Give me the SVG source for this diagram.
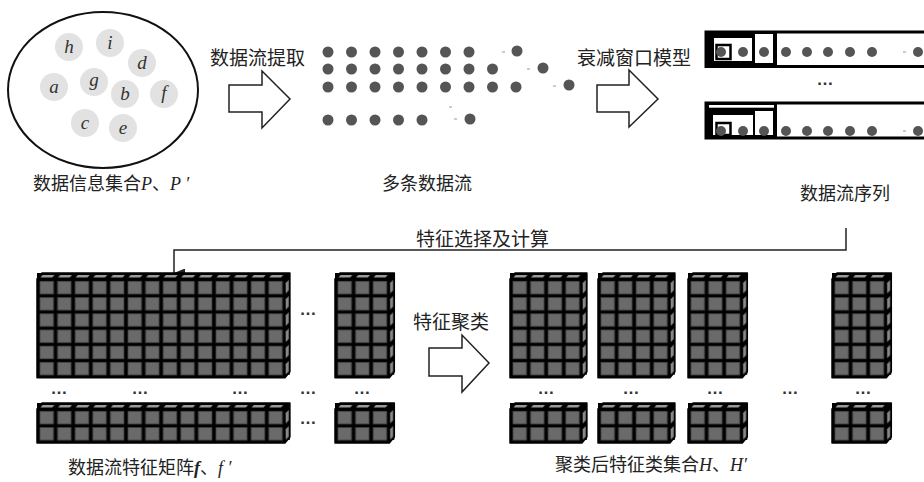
<svg xmlns="http://www.w3.org/2000/svg" width="924" height="482" viewBox="0 0 924 482">
<style>
.cjk{font-family:"Noto Sans CJK SC","Liberation Sans",sans-serif;fill:#222;}
.lbl{font-family:"Liberation Serif",serif;font-style:italic;fill:#333;font-size:19px;}
.it{font-family:"Liberation Serif",serif;font-style:italic;}
.el{font-family:"Liberation Sans",sans-serif;font-size:17px;font-weight:bold;fill:#333;}
.ball{fill:#e2e2e2;}
.d{fill:#555;}
.dash{stroke:#999;stroke-width:1;}
.harrow{fill:#fff;stroke:#222;stroke-width:1.5;}
.sil{fill:#000;stroke:#000;stroke-width:1.5;stroke-linejoin:round;}
</style>
<defs>
<pattern id="pf" patternUnits="userSpaceOnUse" x="0" y="0" width="17.6" height="16.2">
<rect width="17.6" height="16.2" fill="#000"/>
<rect x="3" y="2.5" width="13.5" height="12.5" fill="#6a6a6a" stroke="#4a4a4a" stroke-width="0.8"/>
</pattern>
<pattern id="pt" patternUnits="userSpaceOnUse" x="0" y="-6" width="17.6" height="6">
<rect width="17.6" height="6" fill="#000"/>
<polygon points="3.5,4.6 5.6,2 17.4,2 15.3,4.6" fill="#9a9a9a"/>
</pattern>
<pattern id="ps" patternUnits="userSpaceOnUse" x="0" y="0" width="6" height="16.2">
<rect width="6" height="16.2" fill="#000"/>
<polygon points="0.8,14.5 0.8,4 3.8,1 3.8,11.5" fill="#8a8a8a"/>
</pattern>
<marker id="ah" markerUnits="userSpaceOnUse" markerWidth="9" markerHeight="12" refX="4.5" refY="11" orient="auto-start-reverse" viewBox="0 0 9 12">
<path d="M0,0 L9,0 L4.5,11 Z" fill="#222"/>
</marker>
</defs>

<!-- data info set -->
<g id="dataset">
<ellipse cx="103" cy="90" rx="95" ry="78" fill="none" stroke="#111" stroke-width="2"/>
<circle class="ball" cx="69" cy="47" r="14"/><text class="lbl" x="69" y="53" text-anchor="middle">h</text>
<circle class="ball" cx="110" cy="43" r="14"/><text class="lbl" x="110" y="49" text-anchor="middle">i</text>
<circle class="ball" cx="142" cy="63" r="14"/><text class="lbl" x="142" y="69" text-anchor="middle">d</text>
<circle class="ball" cx="54" cy="87" r="14"/><text class="lbl" x="54" y="93" text-anchor="middle">a</text>
<circle class="ball" cx="94" cy="82" r="14"/><text class="lbl" x="94" y="86" text-anchor="middle">g</text>
<circle class="ball" cx="125" cy="94" r="14"/><text class="lbl" x="125" y="100" text-anchor="middle">b</text>
<circle class="ball" cx="164" cy="94" r="14"/><text class="lbl" x="164" y="99" text-anchor="middle">f</text>
<circle class="ball" cx="85" cy="123" r="14"/><text class="lbl" x="85" y="129" text-anchor="middle">c</text>
<circle class="ball" cx="123" cy="128" r="14"/><text class="lbl" x="123" y="134" text-anchor="middle">e</text>
<text class="cjk" x="33" y="190" font-size="18">数据信息集合<tspan class="it">P</tspan>、<tspan class="it">P ′</tspan></text>
</g>

<!-- extraction arrow -->
<g id="extract">
<polygon class="harrow" points="229,85 262,85 262,71 290,99 262,128 262,112 229,112"/>
<text class="cjk" x="210" y="65" font-size="19">数据流提取</text>
</g>

<!-- multiple data streams -->
<g id="streams">
<circle class="d" cx="328" cy="52" r="5.5"/><circle class="d" cx="351.5" cy="52" r="5.5"/><circle class="d" cx="375" cy="52" r="5.5"/><circle class="d" cx="398.5" cy="52" r="5.5"/><circle class="d" cx="422" cy="52" r="5.5"/><circle class="d" cx="445.5" cy="52" r="5.5"/><circle class="d" cx="469" cy="52" r="5.5"/>
<line class="dash" x1="502" y1="52" x2="505" y2="52"/><circle class="d" cx="517" cy="51" r="5.5"/>
<circle class="d" cx="328" cy="69" r="5.5"/><circle class="d" cx="351.5" cy="69" r="5.5"/><circle class="d" cx="375" cy="69" r="5.5"/><circle class="d" cx="398.5" cy="69" r="5.5"/><circle class="d" cx="422" cy="69" r="5.5"/><circle class="d" cx="445.5" cy="69" r="5.5"/><circle class="d" cx="469" cy="69" r="5.5"/><circle class="d" cx="492.5" cy="69" r="5.5"/>
<line class="dash" x1="527" y1="69" x2="530" y2="69"/><circle class="d" cx="543" cy="68" r="5.5"/>
<circle class="d" cx="328" cy="87" r="5.5"/><circle class="d" cx="351.5" cy="87" r="5.5"/><circle class="d" cx="375" cy="87" r="5.5"/><circle class="d" cx="398.5" cy="87" r="5.5"/><circle class="d" cx="422" cy="87" r="5.5"/><circle class="d" cx="445.5" cy="87" r="5.5"/><circle class="d" cx="469" cy="87" r="5.5"/><circle class="d" cx="492.5" cy="87" r="5.5"/><circle class="d" cx="516" cy="87" r="5.5"/>
<line class="dash" x1="553" y1="86" x2="556" y2="86"/><circle class="d" cx="569" cy="85" r="5.5"/>
<circle class="d" cx="328" cy="120" r="5.5"/><circle class="d" cx="351.5" cy="120" r="5.5"/><circle class="d" cx="375" cy="120" r="5.5"/><circle class="d" cx="398.5" cy="120" r="5.5"/><circle class="d" cx="422" cy="120" r="5.5"/>
<line class="dash" x1="449" y1="107" x2="452" y2="107"/><line class="dash" x1="454" y1="119" x2="457" y2="119"/><circle class="d" cx="470" cy="119" r="5.5"/>
<text class="cjk" x="382" y="190" font-size="18">多条数据流</text>
</g>

<!-- decay window arrow -->
<g id="decay">
<polygon class="harrow" points="597,85 629,85 629,70 658,99 629,127 629,112 597,112"/>
<text class="cjk" x="577" y="65" font-size="19">衰减窗口模型</text>
</g>

<!-- data stream sequences -->
<g id="sequences">
<path d="M924,32 H706 V66.5 H924" fill="none" stroke="#000" stroke-width="3"/>
<rect x="706" y="31" width="71" height="37" fill="#000"/>
<rect x="755" y="34" width="18" height="29" fill="#fff"/>
<rect x="714" y="38" width="38" height="23" fill="#fff"/>
<rect x="716.5" y="45" width="14" height="14" fill="#fff" stroke="#000" stroke-width="2.5"/>
<circle class="d" cx="721" cy="52" r="5"/><circle class="d" cx="743" cy="52" r="5"/><circle class="d" cx="764" cy="52" r="5"/><circle class="d" cx="786" cy="52" r="5"/><circle class="d" cx="807" cy="52" r="5"/><circle class="d" cx="828" cy="52" r="5"/><circle class="d" cx="850" cy="52" r="5"/><circle class="d" cx="872" cy="52" r="5"/>
<line class="dash" x1="903" y1="52" x2="906" y2="52"/><circle class="d" cx="918" cy="52" r="5"/>
<text class="el" x="825" y="85" text-anchor="middle">…</text>
<path d="M924,103 H706 V138 H924" fill="none" stroke="#000" stroke-width="3"/>
<rect x="706" y="102" width="71" height="37" fill="#000"/>
<rect x="709" y="105" width="65" height="2.7" fill="#fff"/>
<rect x="755" y="111" width="18" height="24" fill="#fff"/>
<rect x="713" y="115" width="40" height="20" fill="#fff"/>
<rect x="716.5" y="123" width="14" height="12" fill="#fff" stroke="#000" stroke-width="2.5"/>
<circle class="d" cx="721" cy="131" r="5"/><circle class="d" cx="743" cy="131" r="5"/><circle class="d" cx="764" cy="131" r="5"/><circle class="d" cx="786" cy="131" r="5"/><circle class="d" cx="807" cy="131" r="5"/><circle class="d" cx="828" cy="131" r="5"/><circle class="d" cx="850" cy="131" r="5"/><circle class="d" cx="872" cy="131" r="5"/>
<line class="dash" x1="903" y1="131" x2="906" y2="131"/><circle class="d" cx="918" cy="131" r="5"/>
<text class="cjk" x="800" y="200" font-size="18">数据流序列</text>
</g>

<!-- connector -->
<g id="connectors">
<path d="M846,228 V250 H174 V273" fill="none" stroke="#222" stroke-width="1.5" marker-end="url(#ah)"/>
<text class="cjk" x="416" y="246" font-size="19">特征选择及计算</text>
</g>

<!-- feature matrix -->
<g id="matrix">
<g transform="translate(37,279)">
<polygon class="sil" points="0,0 5,-6 252.9,-6 252.9,92.7 247.9,98.7 0,98.7"/>
<rect x="0" y="-6" width="247.9" height="6" fill="url(#pt)"/>
<rect x="0" y="0" width="247.9" height="98.7" fill="url(#pf)"/>
<g transform="translate(247.9,0)"><rect x="0" y="0" width="5" height="95.7" fill="url(#ps)"/></g>
</g>
<g transform="translate(37,409)">
<polygon class="sil" points="0,0 5,-6 252.9,-6 252.9,27.9 247.9,33.9 0,33.9"/>
<rect x="0" y="-6" width="247.9" height="6" fill="url(#pt)"/>
<rect x="0" y="0" width="247.9" height="33.9" fill="url(#pf)"/>
<g transform="translate(247.9,0)"><rect x="0" y="0" width="5" height="30.9" fill="url(#ps)"/></g>
</g>
<g transform="translate(335,279)">
<polygon class="sil" points="0,0 5,-6 59.3,-6 59.3,92.7 54.3,98.7 0,98.7"/>
<rect x="0" y="-6" width="54.3" height="6" fill="url(#pt)"/>
<rect x="0" y="0" width="54.3" height="98.7" fill="url(#pf)"/>
<g transform="translate(54.3,0)"><rect x="0" y="0" width="5" height="95.7" fill="url(#ps)"/></g>
</g>
<g transform="translate(335,409)">
<polygon class="sil" points="0,0 5,-6 59.3,-6 59.3,27.9 54.3,33.9 0,33.9"/>
<rect x="0" y="-6" width="54.3" height="6" fill="url(#pt)"/>
<rect x="0" y="0" width="54.3" height="33.9" fill="url(#pf)"/>
<g transform="translate(54.3,0)"><rect x="0" y="0" width="5" height="30.9" fill="url(#ps)"/></g>
</g>
<text class="el" x="308" y="315" text-anchor="middle">…</text>
<text class="el" x="59" y="394" text-anchor="middle">…</text>
<text class="el" x="140" y="394" text-anchor="middle">…</text>
<text class="el" x="240" y="394" text-anchor="middle">…</text>
<text class="el" x="308" y="394" text-anchor="middle">…</text>
<text class="el" x="362" y="394" text-anchor="middle">…</text>
<text class="el" x="308" y="424" text-anchor="middle">…</text>
<text class="cjk" x="68" y="474" font-size="18">数据流特征矩阵<tspan class="it" font-weight="bold">f</tspan>、<tspan class="it">f ′</tspan></text>
</g>

<!-- clustering arrow -->
<g id="cluster">
<polygon class="harrow" points="429,348 462,348 462,335 489,363 462,392 462,376 429,376"/>
<text class="cjk" x="413" y="329" font-size="19">特征聚类</text>
</g>

<!-- clustered feature sets -->
<g id="clusters">
<g transform="translate(510,279)">
<polygon class="sil" points="0,0 5,-6 76.9,-6 76.9,92.7 71.9,98.7 0,98.7"/>
<rect x="0" y="-6" width="71.9" height="6" fill="url(#pt)"/>
<rect x="0" y="0" width="71.9" height="98.7" fill="url(#pf)"/>
<g transform="translate(71.9,0)"><rect x="0" y="0" width="5" height="95.7" fill="url(#ps)"/></g>
</g>
<g transform="translate(510,409)">
<polygon class="sil" points="0,0 5,-6 76.9,-6 76.9,27.9 71.9,33.9 0,33.9"/>
<rect x="0" y="-6" width="71.9" height="6" fill="url(#pt)"/>
<rect x="0" y="0" width="71.9" height="33.9" fill="url(#pf)"/>
<g transform="translate(71.9,0)"><rect x="0" y="0" width="5" height="30.9" fill="url(#ps)"/></g>
</g>
<g transform="translate(598,279)">
<polygon class="sil" points="0,0 5,-6 76.9,-6 76.9,92.7 71.9,98.7 0,98.7"/>
<rect x="0" y="-6" width="71.9" height="6" fill="url(#pt)"/>
<rect x="0" y="0" width="71.9" height="98.7" fill="url(#pf)"/>
<g transform="translate(71.9,0)"><rect x="0" y="0" width="5" height="95.7" fill="url(#ps)"/></g>
</g>
<g transform="translate(598,409)">
<polygon class="sil" points="0,0 5,-6 76.9,-6 76.9,27.9 71.9,33.9 0,33.9"/>
<rect x="0" y="-6" width="71.9" height="6" fill="url(#pt)"/>
<rect x="0" y="0" width="71.9" height="33.9" fill="url(#pf)"/>
<g transform="translate(71.9,0)"><rect x="0" y="0" width="5" height="30.9" fill="url(#ps)"/></g>
</g>
<g transform="translate(688,279)">
<polygon class="sil" points="0,0 5,-6 59.3,-6 59.3,92.7 54.3,98.7 0,98.7"/>
<rect x="0" y="-6" width="54.3" height="6" fill="url(#pt)"/>
<rect x="0" y="0" width="54.3" height="98.7" fill="url(#pf)"/>
<g transform="translate(54.3,0)"><rect x="0" y="0" width="5" height="95.7" fill="url(#ps)"/></g>
</g>
<g transform="translate(688,409)">
<polygon class="sil" points="0,0 5,-6 59.3,-6 59.3,27.9 54.3,33.9 0,33.9"/>
<rect x="0" y="-6" width="54.3" height="6" fill="url(#pt)"/>
<rect x="0" y="0" width="54.3" height="33.9" fill="url(#pf)"/>
<g transform="translate(54.3,0)"><rect x="0" y="0" width="5" height="30.9" fill="url(#ps)"/></g>
</g>
<g transform="translate(832,279)">
<polygon class="sil" points="0,0 5,-6 59.3,-6 59.3,92.7 54.3,98.7 0,98.7"/>
<rect x="0" y="-6" width="54.3" height="6" fill="url(#pt)"/>
<rect x="0" y="0" width="54.3" height="98.7" fill="url(#pf)"/>
<g transform="translate(54.3,0)"><rect x="0" y="0" width="5" height="95.7" fill="url(#ps)"/></g>
</g>
<g transform="translate(832,409)">
<polygon class="sil" points="0,0 5,-6 59.3,-6 59.3,27.9 54.3,33.9 0,33.9"/>
<rect x="0" y="-6" width="54.3" height="6" fill="url(#pt)"/>
<rect x="0" y="0" width="54.3" height="33.9" fill="url(#pf)"/>
<g transform="translate(54.3,0)"><rect x="0" y="0" width="5" height="30.9" fill="url(#ps)"/></g>
</g>
<text class="el" x="546" y="394" text-anchor="middle">…</text>
<text class="el" x="631" y="394" text-anchor="middle">…</text>
<text class="el" x="715" y="394" text-anchor="middle">…</text>
<text class="el" x="790" y="394" text-anchor="middle">…</text>
<text class="el" x="863" y="394" text-anchor="middle">…</text>
<text class="cjk" x="555" y="471" font-size="18">聚类后特征类集合<tspan class="it">H</tspan>、<tspan class="it">H′</tspan></text>
</g>
</svg>
